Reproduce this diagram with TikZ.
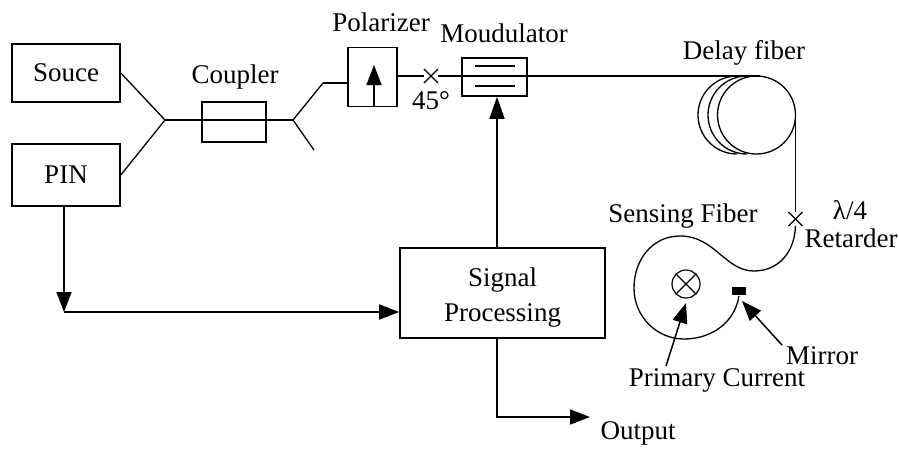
\documentclass[tikz,border=0pt]{standalone}
\usepackage{fontspec}
\setmainfont{Liberation Serif}
\usetikzlibrary{arrows.meta,shapes.misc}
\tikzset{
  box/.style={draw,rectangle,inner sep=0pt},
  fiber/.style={line width=1.3pt},
  crossmark/.style={draw,cross out,line width=1.1pt,inner sep=0pt,minimum size=13pt},
  signal/.style={line width=1.6pt,-{Triangle[length=22pt,width=15pt]}},
  thinsignal/.style={line width=1.5pt,-{Triangle[length=20pt,width=15pt]}}
}

\begin{document}
\begin{tikzpicture}[x=1pt,y=-1pt,line width=1.6pt]
    \tikzstyle{every node}=[font=\fontsize{27}{29}\selectfont]
    \useasboundingbox (0,0) rectangle (899,448);
    % boxes
    \node[box,minimum width=108pt,minimum height=58pt] (souce) at (66,73) {Souce};
    \node[box,minimum width=108pt,minimum height=62pt] (pin) at (66,175) {PIN};
    \node[box,minimum width=64pt,minimum height=40pt] (coupler) at (234,122) {};
    \node[box,minimum width=49pt,minimum height=59pt] (polarizer) at (372.5,77) {};
    \node[box,minimum width=65pt,minimum height=38pt] (modulator) at (494.5,77) {};
    \node[box,minimum width=205pt,minimum height=90pt,align=center] (signalbox) at (502.5,293) {\rule{0pt}{28pt}Signal\\[6pt]Processing};
    % labels
    \node (couplerl) at (235,77) {Coupler};
    \node (polarizerl) at (381,22) {Polarizer};
    \node (modulatorl) at (504,33) {Moudulator};
    \node (anglel) at (431,101) {45°};
    \node (delayl) at (744,53) {Delay fiber};
    \node (sensingl) at (683,216) {Sensing Fiber};
    \node (lambdal) at (850,210) {λ/4};
    \node (retarderl) at (851,238) {Retarder};
    \node (mirrorl) at (822,356) {Mirror};
    \node (primaryl) at (717,380) {Primary Current};
    \node (outputl) at (638,433) {Output};
    % left fiber
    \coordinate (jl) at (165,120);
    \coordinate (jr) at (293,120);
    \coordinate (jup) at (323,83);
    \coordinate (jdown) at (314,150);
    \draw[fiber] (souce.east) -- (jl);
    \draw[fiber] (pin.east) -- (jl);
    \draw[fiber] (jl) -- (jr);
    \draw[fiber] (jr) -- (jup);
    \draw[fiber] (jr) -- (jdown);
    \draw[fiber] (jup) -- (jup -| polarizer.west);
    % polarizer arrow
    \coordinate (pa) at (374,65);
    \draw[thinsignal] (polarizer.south -| pa) -- (pa);
    % modulator
    \coordinate (m1) at (475,66);
    \coordinate (m2) at (515,66);
    \coordinate (m3) at (475,86);
    \coordinate (m4) at (515,86);
    \draw (m1) -- (m2);
    \draw (m3) -- (m4);
    \node[crossmark] (angle) at (431,76) {};
    \coordinate (dtop) at (760,76);
    \draw[fiber] (polarizer.east |- angle) -- (angle);
    \draw[fiber] (angle) -- (angle -| modulator.west);
    \draw[fiber] (angle -| modulator.west) -- (angle -| modulator.east);
    \draw[line width=1.6pt] (angle -| modulator.east) -- (dtop);
    % delay coil
    \coordinate (coil) at (756.5,115);
    \draw[fiber] (coil) circle [radius=39];
    \draw[fiber] (747,76) arc [start angle=-90,delta angle=-180,x radius=39,y radius=39];
    \draw[fiber] (737,76) arc [start angle=-90,delta angle=-180,x radius=39,y radius=39];
    % sensing fiber
    \coordinate (coilr) at (795.5,115);
    \node[crossmark] (retarder) at (795.5,219) {};
    \node[fill=black,inner sep=0pt,minimum width=14pt,minimum height=8pt] (mirror) at (739,291) {};
    \draw[fiber] (coilr) -- (retarder);
    \draw[fiber] (retarder) .. controls (795,250) and (780,271) .. (754,271)
        .. controls (725,271) and (715,236) .. (680,236)
        .. controls (652,236) and (634,260) .. (634,288)
        .. controls (634,317) and (657,339) .. (684,339)
        .. controls (712,339) and (735,322) .. (mirror.south);
    % primary current
    \node[draw,circle,inner sep=0pt,minimum size=28pt,line width=1.2pt] (current) at (686,284) {};
    \draw[line width=1.2pt] (current.45) -- (current.225);
    \draw[line width=1.2pt] (current.135) -- (current.315);
    \coordinate (pc) at (666,366);
    \coordinate (mc) at (782,345);
    \coordinate (pctip) at (686,303);
    \coordinate (mctip) at (742,301);
    \draw[thinsignal] (pc) -- (pctip);
    \draw[thinsignal] (mc) -- (mctip);
    % signal lines
    \coordinate (pinj) at (64,312);
    \coordinate (outtop) at (497,417);
    \coordinate (outend) at (590,417);
    \draw[signal] (signalbox.north -| 497,0) -- (modulator.south -| 497,0);
    \draw[thinsignal] (pin.south -| pinj) -- (pinj);
    \draw[thinsignal] (pinj) -- (pinj -| signalbox.west);
    \draw[thinsignal] (signalbox.south -| outtop) -- (outtop) -- (outend);
\end{tikzpicture}
\end{document}
